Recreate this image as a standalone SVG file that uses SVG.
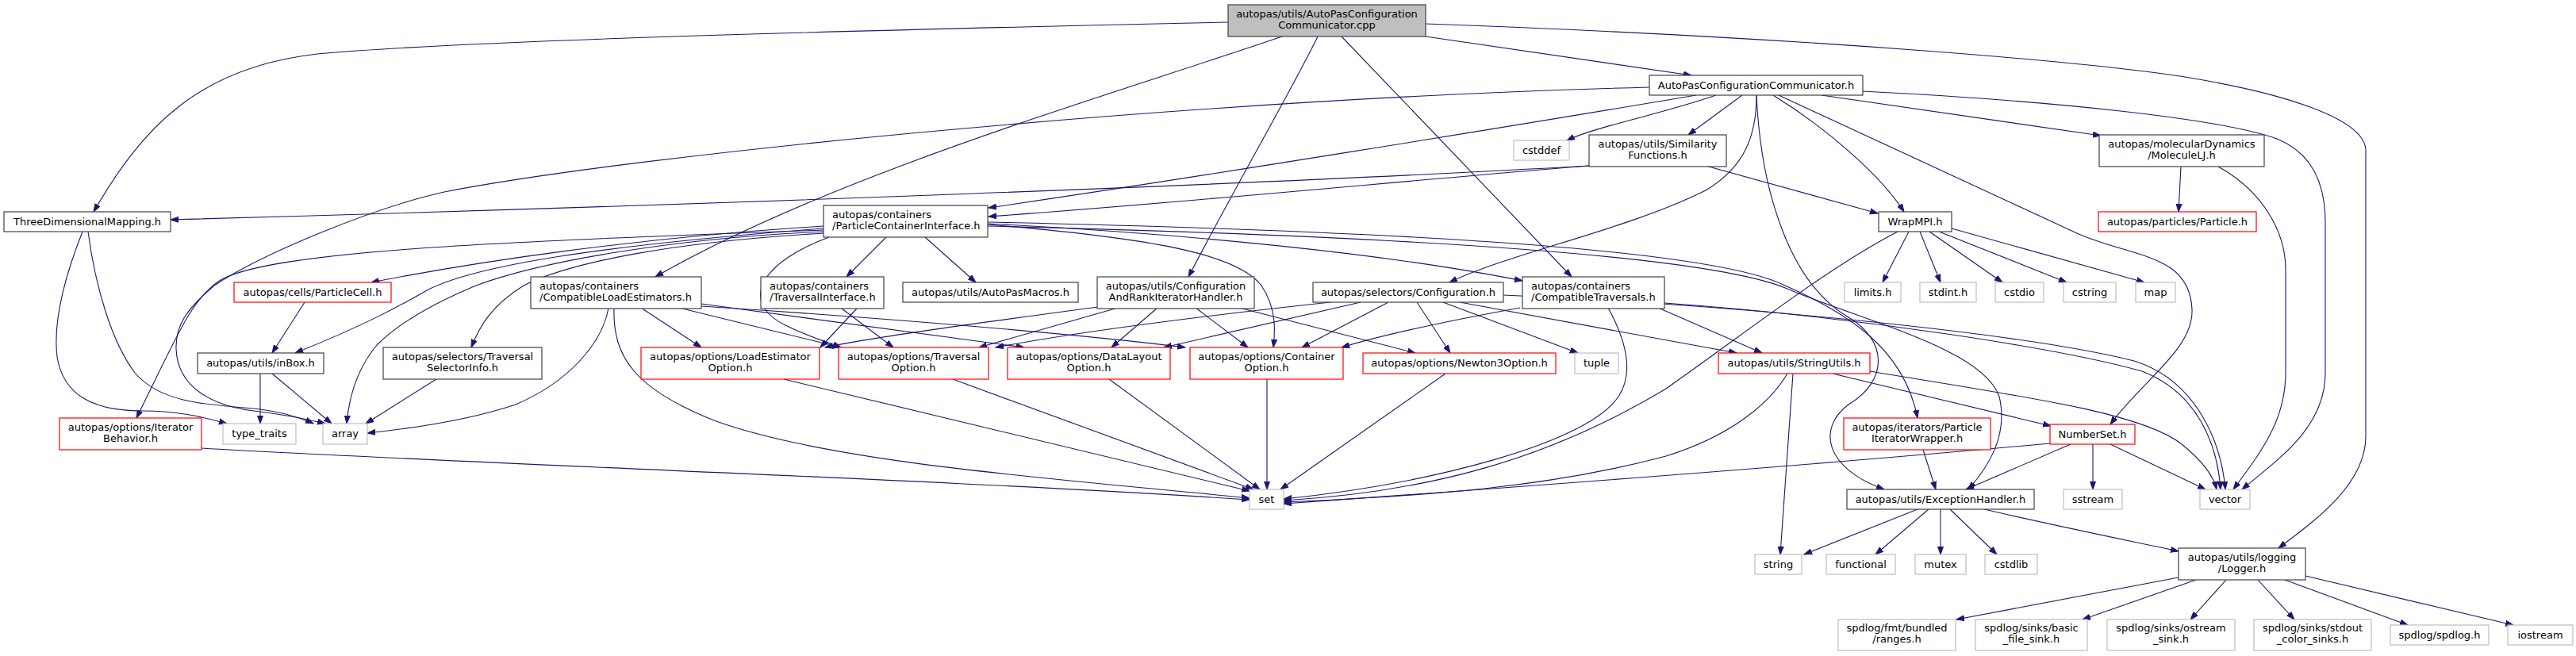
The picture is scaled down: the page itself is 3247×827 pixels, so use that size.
<svg xmlns="http://www.w3.org/2000/svg" width="3247" height="827" viewBox="0 0 3247 827">
<style>
.n rect{fill:#fff;stroke:#404040;stroke-width:1.2}
.r rect{fill:#fff;stroke:#ff0000;stroke-width:1.2}
.g rect{fill:#fff;stroke:#bfbfbf;stroke-width:1.2}
.root rect{fill:#bfbfbf;stroke:#404040;stroke-width:1.2}
text{font-family:"DejaVu Sans","Liberation Sans",sans-serif;font-size:13px;fill:#000}
.c{text-anchor:middle}
#edges path{fill:none;stroke:#191970;stroke-width:1.1;marker-end:url(#a)}
</style>
<defs>
<marker id="a" markerWidth="11" markerHeight="9" refX="10" refY="4" orient="auto" markerUnits="userSpaceOnUse"><path d="M0,0.5 L10,4 L0,7.5 z" fill="#191970" stroke="#191970" stroke-width="1"/></marker>
</defs>
<rect width="3247" height="827" fill="#fff"/>
<g id="edges">
<path d="M1548,28 C1100,38 600,50 400,68 C250,85 180,160 118,267"/>
<path d="M1797,46 L2132,95"/>
<path d="M1797,30 C2300,48 2650,80 2760,98 C2880,118 2982,150 2982,190 L2982,550 C2982,610 2920,655 2872,691"/>
<path d="M1616,46 C1400,120 1050,220 826,349"/>
<path d="M1661,46 C1630,110 1560,230 1498,349"/>
<path d="M1691,46 L1981,349"/>
<path d="M2079,110 C1500,125 800,195 560,242 C470,262 330,320 270,360 C235,390 221,410 222,440 C224,490 270,512 320,518 C355,522 385,528 410,534"/>
<path d="M2138,120 C1900,160 1500,225 1246,262"/>
<path d="M2163,120 C2090,145 2010,160 1975,177"/>
<path d="M2196,120 L2128,170"/>
<path d="M2214,120 C2214,170 2200,210 2150,240 C2050,290 1900,320 1827,356"/>
<path d="M2214,120 C2220,250 2260,360 2330,400 C2380,430 2380,480 2330,510 C2290,540 2300,590 2375,617"/>
<path d="M2235,120 C2300,160 2370,220 2400,267"/>
<path d="M2242,120 L2620,295 C2690,325 2760,320 2763,390 C2765,440 2700,480 2660,535"/>
<path d="M2296,120 L2648,171"/>
<path d="M2348,115 C2600,128 2800,150 2870,175 C2920,195 2931,240 2931,280 L2931,470 C2931,540 2870,580 2826,617"/>
<path d="M2003,209 C1600,232 900,258 215,277"/>
<path d="M2003,209 C1800,225 1500,255 1246,273"/>
<path d="M2150,209 L2367,269"/>
<path d="M2749,210 L2746,267"/>
<path d="M2796,210 C2850,240 2881,290 2881,340 L2881,470 C2881,530 2850,570 2815,617"/>
<path d="M104,292 C85,340 66,400 72,450 C80,500 120,518 180,518 C220,518 250,524 286,534"/>
<path d="M111,292 C120,360 140,430 170,470 C200,505 250,510 320,515 C350,518 375,525 395,534"/>
<path d="M1038,285 C800,300 600,330 468,356"/>
<path d="M1038,288 C750,310 600,335 540,365 C505,385 460,410 372,445"/>
<path d="M1038,290 C600,305 330,318 275,355 C240,380 225,420 172,527"/>
<path d="M1038,292 C850,300 680,330 600,360 C540,385 500,410 475,435 C450,465 440,500 437,534"/>
<path d="M1038,294 C850,305 720,330 660,360 C620,385 605,410 594,438"/>
<path d="M1117,299 L1067,349"/>
<path d="M1166,299 L1230,356"/>
<path d="M1045,299 C960,330 930,380 990,410 C1020,425 1040,430 1060,438"/>
<path d="M1245,282 C1500,295 1750,320 1919,354"/>
<path d="M1245,280 C1700,290 2150,310 2250,360 C2330,395 2400,440 2417,527"/>
<path d="M1245,283 C1450,300 1560,320 1590,360 C1610,390 1607,420 1605,438"/>
<path d="M1245,285 C1700,296 2150,318 2255,365 C2350,405 2500,440 2520,500 C2532,550 2505,590 2481,617"/>
<path d="M384,381 L343,445"/>
<path d="M328,471 L328,534"/>
<path d="M343,471 L418,534"/>
<path d="M550,478 L461,534"/>
<path d="M767,388 C760,430 720,480 650,510 C590,530 520,540 463,546"/>
<path d="M774,388 C772,450 800,490 900,530 C1050,585 1350,605 1575,628"/>
<path d="M808,388 L884,438"/>
<path d="M856,388 L1060,438"/>
<path d="M884,383 L1291,438"/>
<path d="M884,386 C1100,400 1350,420 1494,438"/>
<path d="M1061,389 L1126,438"/>
<path d="M1080,389 L1034,438"/>
<path d="M1384,387 C1250,405 1100,425 1040,438"/>
<path d="M1409,388 L1234,438"/>
<path d="M1459,388 L1401,438"/>
<path d="M1507,388 L1573,438"/>
<path d="M1562,388 L1784,445"/>
<path d="M1677,381 C1500,400 1350,420 1255,438"/>
<path d="M1715,381 L1467,438"/>
<path d="M1750,381 L1641,438"/>
<path d="M1786,381 L1828,445"/>
<path d="M1819,381 L1989,445"/>
<path d="M1840,381 L2189,445"/>
<path d="M1895,372 C2200,385 2550,420 2690,455 C2770,480 2800,560 2805,617"/>
<path d="M1916,388 C1850,400 1750,420 1691,438"/>
<path d="M2027,388 C2050,430 2060,470 2040,500 C2000,560 1800,610 1618,629"/>
<path d="M2090,388 L2221,445"/>
<path d="M2098,382 C2350,400 2600,440 2700,468 C2770,495 2795,560 2799,617"/>
<path d="M2406,292 L2373,356"/>
<path d="M2420,292 L2446,356"/>
<path d="M2432,292 L2524,356"/>
<path d="M2444,292 L2605,356"/>
<path d="M2460,288 L2703,356"/>
<path d="M2392,292 C2300,340 2200,420 2100,490 C1950,580 1800,620 1618,631"/>
<path d="M2260,471 L2244,699"/>
<path d="M2310,471 L2585,537"/>
<path d="M2357,468 C2550,500 2700,520 2750,560 C2775,580 2790,600 2794,617"/>
<path d="M2253,471 C2230,510 2180,550 2100,575 C1950,615 1800,625 1618,633"/>
<path d="M2638,560 L2638,617"/>
<path d="M2610,560 L2478,617"/>
<path d="M2660,560 L2780,617"/>
<path d="M2584,559 C2300,585 1900,615 1618,635"/>
<path d="M2424,567 L2440,617"/>
<path d="M2417,642 L2274,699"/>
<path d="M2431,642 L2364,699"/>
<path d="M2446,642 L2446,699"/>
<path d="M2458,642 L2517,699"/>
<path d="M2501,642 C2600,665 2700,685 2746,695"/>
<path d="M2746,728 L2466,781"/>
<path d="M2768,731 L2625,781"/>
<path d="M2806,731 L2761,781"/>
<path d="M2846,731 L2892,781"/>
<path d="M2880,731 L3035,788"/>
<path d="M2906,726 L3168,788"/>
<path d="M254,565 C600,585 1200,605 1575,630"/>
<path d="M988,478 L1575,619"/>
<path d="M1201,478 L1580,617"/>
<path d="M1398,478 L1588,617"/>
<path d="M1597,478 L1597,617"/>
<path d="M1822,471 L1614,617"/>
</g>
<g id="root" class="root"><rect x="1548" y="6" width="249" height="40"/><text class="c" x="1672.5" y="22">autopas/utils/AutoPasConfiguration</text><text class="c" x="1672.5" y="36">Communicator.cpp</text></g>
<g id="apcc" class="n"><rect x="2079" y="95" width="269" height="25"/><text class="c" x="2213.5" y="112">AutoPasConfigurationCommunicator.h</text></g>
<g id="cstddef" class="g"><rect x="1908" y="177" width="70" height="25"/><text class="c" x="1943" y="194">cstddef</text></g>
<g id="simf" class="n"><rect x="2003" y="170" width="173" height="40"/><text class="c" x="2089.5" y="186">autopas/utils/Similarity</text><text class="c" x="2089.5" y="200">Functions.h</text></g>
<g id="mol" class="n"><rect x="2646" y="170" width="208" height="40"/><text class="c" x="2750" y="186">autopas/molecularDynamics</text><text class="c" x="2750" y="200">/MoleculeLJ.h</text></g>
<g id="threeD" class="n"><rect x="5" y="267" width="210" height="25"/><text class="c" x="110" y="284">ThreeDimensionalMapping.h</text></g>
<g id="pci" class="n"><rect x="1038" y="259" width="207" height="40"/><text x="1049" y="275">autopas/containers</text><text x="1049" y="289">/ParticleContainerInterface.h</text></g>
<g id="wrapmpi" class="n"><rect x="2368" y="267" width="92" height="25"/><text class="c" x="2414" y="284">WrapMPI.h</text></g>
<g id="particle" class="r"><rect x="2645" y="267" width="199" height="25"/><text class="c" x="2744.5" y="284">autopas/particles/Particle.h</text></g>
<g id="pcell" class="r"><rect x="295" y="356" width="198" height="25"/><text class="c" x="394" y="373">autopas/cells/ParticleCell.h</text></g>
<g id="cle" class="n"><rect x="669" y="349" width="215" height="40"/><text x="680" y="365">autopas/containers</text><text x="680" y="379">/CompatibleLoadEstimators.h</text></g>
<g id="tinterface" class="n"><rect x="959" y="349" width="155" height="40"/><text x="970" y="365">autopas/containers</text><text x="970" y="379">/TraversalInterface.h</text></g>
<g id="macros" class="n"><rect x="1138" y="356" width="221" height="25"/><text class="c" x="1248.5" y="373">autopas/utils/AutoPasMacros.h</text></g>
<g id="carih" class="n"><rect x="1383" y="349" width="198" height="40"/><text class="c" x="1482" y="365">autopas/utils/Configuration</text><text class="c" x="1482" y="379">AndRankIteratorHandler.h</text></g>
<g id="config" class="n"><rect x="1655" y="356" width="240" height="25"/><text class="c" x="1775" y="373">autopas/selectors/Configuration.h</text></g>
<g id="ctrav" class="n"><rect x="1919" y="349" width="179" height="40"/><text x="1930" y="365">autopas/containers</text><text x="1930" y="379">/CompatibleTraversals.h</text></g>
<g id="limits" class="g"><rect x="2325" y="356" width="71" height="25"/><text class="c" x="2360.5" y="373">limits.h</text></g>
<g id="stdint" class="g"><rect x="2420" y="356" width="71" height="25"/><text class="c" x="2455.5" y="373">stdint.h</text></g>
<g id="cstdio" class="g"><rect x="2515" y="356" width="61" height="25"/><text class="c" x="2545.5" y="373">cstdio</text></g>
<g id="cstring" class="g"><rect x="2601" y="356" width="66" height="25"/><text class="c" x="2634" y="373">cstring</text></g>
<g id="map" class="g"><rect x="2692" y="356" width="50" height="25"/><text class="c" x="2717" y="373">map</text></g>
<g id="inBox" class="n"><rect x="249" y="445" width="159" height="26"/><text class="c" x="328.5" y="462">autopas/utils/inBox.h</text></g>
<g id="tsi" class="n"><rect x="483" y="438" width="200" height="40"/><text class="c" x="583" y="454">autopas/selectors/Traversal</text><text class="c" x="583" y="468">SelectorInfo.h</text></g>
<g id="leo" class="r"><rect x="808" y="438" width="225" height="40"/><text class="c" x="920.5" y="454">autopas/options/LoadEstimator</text><text class="c" x="920.5" y="468">Option.h</text></g>
<g id="travopt" class="r"><rect x="1057" y="438" width="189" height="40"/><text class="c" x="1151.5" y="454">autopas/options/Traversal</text><text class="c" x="1151.5" y="468">Option.h</text></g>
<g id="dlo" class="r"><rect x="1270" y="438" width="205" height="40"/><text class="c" x="1372.5" y="454">autopas/options/DataLayout</text><text class="c" x="1372.5" y="468">Option.h</text></g>
<g id="contopt" class="r"><rect x="1500" y="438" width="193" height="40"/><text class="c" x="1596.5" y="454">autopas/options/Container</text><text class="c" x="1596.5" y="468">Option.h</text></g>
<g id="newton3" class="r"><rect x="1718" y="445" width="243" height="26"/><text class="c" x="1839.5" y="462">autopas/options/Newton3Option.h</text></g>
<g id="tuple" class="g"><rect x="1985" y="445" width="55" height="26"/><text class="c" x="2012.5" y="462">tuple</text></g>
<g id="stringutils" class="r"><rect x="2166" y="445" width="191" height="26"/><text class="c" x="2261.5" y="462">autopas/utils/StringUtils.h</text></g>
<g id="iterBeh" class="r"><rect x="75" y="527" width="179" height="40"/><text class="c" x="164.5" y="543">autopas/options/Iterator</text><text class="c" x="164.5" y="557">Behavior.h</text></g>
<g id="type_traits" class="g"><rect x="281" y="534" width="92" height="26"/><text class="c" x="327" y="551">type_traits</text></g>
<g id="array" class="g"><rect x="407" y="534" width="56" height="26"/><text class="c" x="435" y="551">array</text></g>
<g id="piw" class="r"><rect x="2324" y="527" width="185" height="40"/><text class="c" x="2416.5" y="543">autopas/iterators/Particle</text><text class="c" x="2416.5" y="557">IteratorWrapper.h</text></g>
<g id="numberset" class="r"><rect x="2584" y="535" width="107" height="25"/><text class="c" x="2637.5" y="552">NumberSet.h</text></g>
<g id="set" class="g"><rect x="1575" y="617" width="43" height="25"/><text class="c" x="1596.5" y="634">set</text></g>
<g id="exch" class="n"><rect x="2328" y="617" width="236" height="25"/><text class="c" x="2446" y="634">autopas/utils/ExceptionHandler.h</text></g>
<g id="sstream" class="g"><rect x="2601" y="617" width="74" height="25"/><text class="c" x="2638" y="634">sstream</text></g>
<g id="vector" class="g"><rect x="2773" y="617" width="63" height="25"/><text class="c" x="2804.5" y="634">vector</text></g>
<g id="string" class="g"><rect x="2212" y="699" width="59" height="25"/><text class="c" x="2241.5" y="716">string</text></g>
<g id="functional" class="g"><rect x="2302" y="699" width="87" height="25"/><text class="c" x="2345.5" y="716">functional</text></g>
<g id="mutex" class="g"><rect x="2414" y="699" width="64" height="25"/><text class="c" x="2446" y="716">mutex</text></g>
<g id="cstdlib" class="g"><rect x="2502" y="699" width="66" height="25"/><text class="c" x="2535" y="716">cstdlib</text></g>
<g id="logger" class="n"><rect x="2746" y="691" width="160" height="40"/><text class="c" x="2826" y="707">autopas/utils/logging</text><text class="c" x="2826" y="721">/Logger.h</text></g>
<g id="ranges" class="g"><rect x="2317" y="781" width="148" height="39"/><text class="c" x="2391" y="796">spdlog/fmt/bundled</text><text class="c" x="2391" y="810">/ranges.h</text></g>
<g id="basic" class="g"><rect x="2490" y="781" width="141" height="39"/><text class="c" x="2560.5" y="796">spdlog/sinks/basic</text><text class="c" x="2560.5" y="810">_file_sink.h</text></g>
<g id="ostream" class="g"><rect x="2656" y="781" width="161" height="39"/><text class="c" x="2736.5" y="796">spdlog/sinks/ostream</text><text class="c" x="2736.5" y="810">_sink.h</text></g>
<g id="stdout" class="g"><rect x="2841" y="781" width="148" height="39"/><text class="c" x="2915" y="796">spdlog/sinks/stdout</text><text class="c" x="2915" y="810">_color_sinks.h</text></g>
<g id="spdlog" class="g"><rect x="3013" y="788" width="124" height="25"/><text class="c" x="3075" y="805">spdlog/spdlog.h</text></g>
<g id="iostream" class="g"><rect x="3161" y="788" width="82" height="25"/><text class="c" x="3202" y="805">iostream</text></g>
</svg>
